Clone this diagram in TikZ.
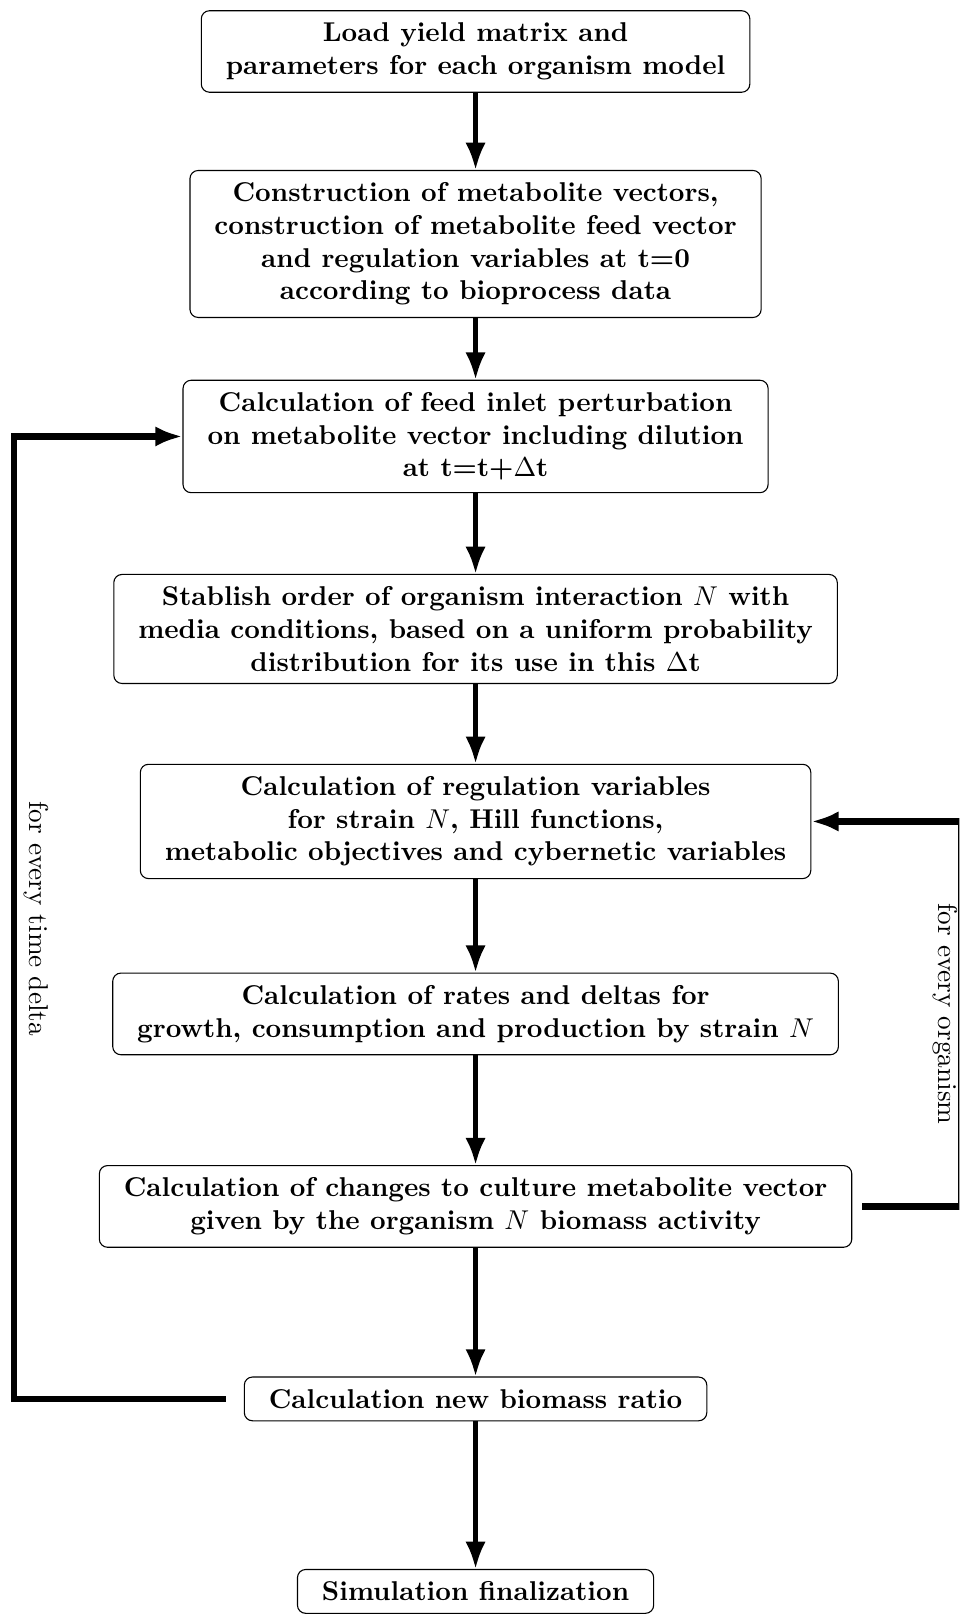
\documentclass[tikz,border=0pt]{standalone}
\usetikzlibrary{arrows.meta}

\tikzset{
  stepbox/.style={draw, rounded corners=3pt, align=center, font=\bfseries,
    inner xsep=9pt, inner ysep=4.5pt},
  flow/.style={line width=1.7pt, -{Latex[length=10pt,width=7.5pt]}},
  loopline/.style={line width=2.3pt}
}

\begin{document}
\begin{tikzpicture}
    \clip (-6.142,0.665) rectangle (6.249,-20.18);
    \node[stepbox] (load) at (0,0) {Load yield matrix and\\parameters for each organism model};
    \node[stepbox] (build) at (0,-2.486) {Construction of metabolite vectors,\\construction of metabolite feed vector\\and regulation variables at t=0\\according to bioprocess data};
    \node[stepbox] (feed) at (0,-4.972) {Calculation of feed inlet perturbation\\on metabolite vector including dilution\\at t=t+$\Delta$t};
    \node[stepbox] (order) at (0,-7.458) {Stablish order of organism interaction $N$ with\\media conditions, based on a uniform probability\\distribution for its use in this $\Delta$t};
    \node[stepbox] (regul) at (0,-9.944) {Calculation of regulation variables\\for strain $N$, Hill functions,\\metabolic objectives and cybernetic variables};
    \node[stepbox] (rates) at (0,-12.43) {Calculation of rates and deltas for\\growth, consumption and production by strain $N$};
    \node[stepbox] (changes) at (0,-14.916) {Calculation of changes to culture metabolite vector\\given by the organism $N$ biomass activity};
    \node[stepbox] (ratio) at (0,-17.402) {Calculation new biomass ratio};
    \node[stepbox] (final) at (0,-19.888) {Simulation finalization};

    \draw[flow] (load) -- (build);
    \draw[flow] (build) -- (feed);
    \draw[flow] (feed) -- (order);
    \draw[flow] (order) -- (regul);
    \draw[flow] (regul) -- (rates);
    \draw[flow] (rates) -- (changes);
    \draw[flow] (changes) -- (ratio);
    \draw[flow] (ratio) -- (final);

    % loops
    \draw[flow, loopline] ([xshift=-0.23cm]ratio.west) -- ++(-2.736,0) |- (feed.west);
    \draw[flow, loopline] ([xshift=0.13cm]changes.east) -- ++(1.28,0) |- (regul.east);
    \node[rotate=-90] (tdelta) at (-5.677,-11.20) {for every time delta};
    \node[rotate=-90] (everyorg) at (6.06,-12.43) {for every organism};
\end{tikzpicture}
\end{document}
